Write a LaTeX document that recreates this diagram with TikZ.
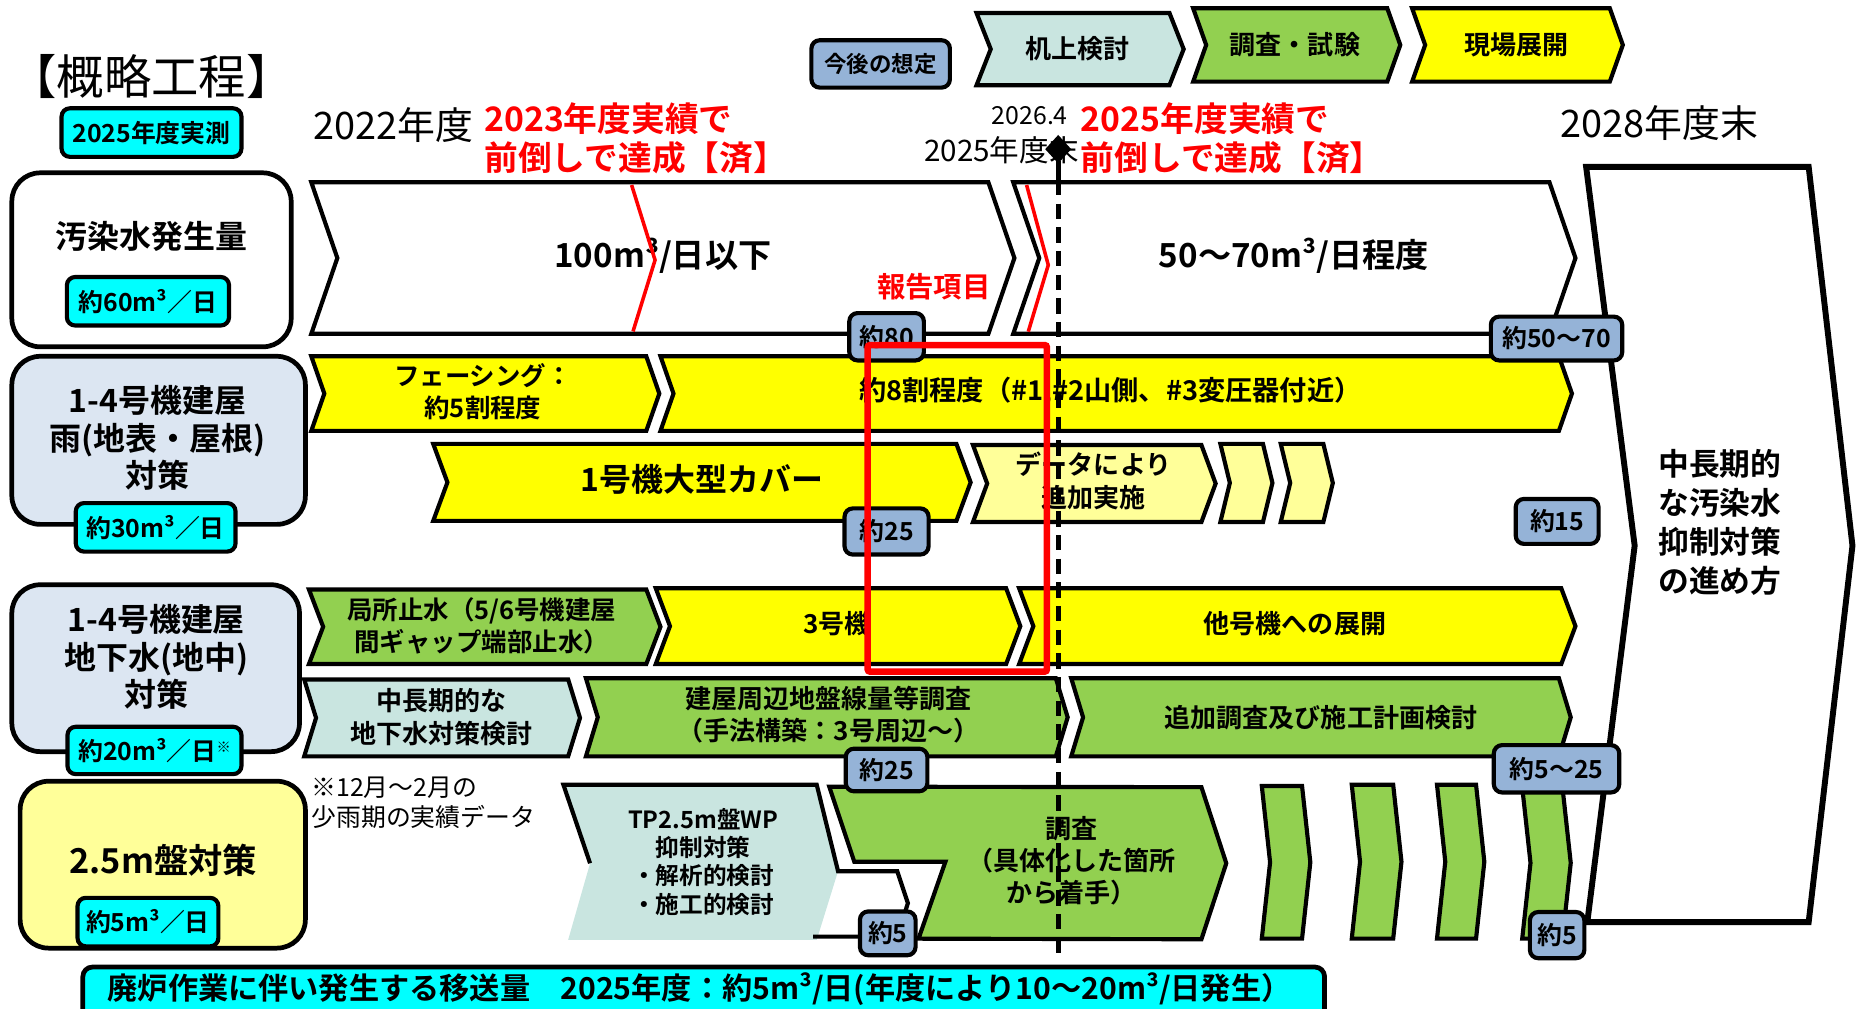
\documentclass[tikz,border=0pt]{standalone}
\usepackage{fontspec}
\setmainfont{Noto Sans CJK JP}[BoldFont={Noto Sans CJK JP Bold}]
\definecolor{cyanb}{HTML}{00FFFF}
\definecolor{bblue}{HTML}{95B3D7}
\definecolor{lgray}{HTML}{DCE6F2}
\definecolor{yel}{HTML}{FFFF00}
\definecolor{lyel}{HTML}{FFFF99}
\definecolor{grn}{HTML}{92D050}
\definecolor{lteal}{HTML}{C9E5E0}
\definecolor{redx}{HTML}{FF0000}
\newcommand\fsz[2]{\fontsize{#1}{#2}\selectfont}
\newcommand\chv[6]{\filldraw[ln,fill=#1] (#2,#3) -- (#4,#3) -- ({#4+#6},{(#3+#5)/2}) -- (#4,#5) -- (#2,#5) -- ({#2+#6},{(#3+#5)/2}) -- cycle;}
\tikzset{
  every node/.style={inner sep=0pt, align=center},
  ln/.style={draw=black, line width=3.5pt, line join=miter},
  lab/.style={draw=black, line width=4pt, rounded corners=24pt},
  bdg/.style={draw=black, line width=3.5pt, rounded corners=7pt, font=\bfseries\fsz{21}{21}},
  bb/.style={bdg, fill=bblue},
  bc/.style={bdg, fill=cyanb},
  tb/.style={font=\bfseries\fsz{#1}{#1}},
  tl/.style={font=\bfseries\fsz{27}{32}},
  rt/.style={text=redx, font=\bfseries\fsz{28.5}{33}, align=left, anchor=west},
}
\begin{document}
\begin{tikzpicture}[x=1pt,y=-1pt]
\useasboundingbox (0,0) rectangle (1568,852);
\clip (0,0) rectangle (1568,852);
% ---- header
\node[font=\fsz{40}{40}] (title) at (128,65) {【概略工程】};
\node[bc, minimum width=152pt, minimum height=41pt] (meas) at (128,112) {2025年度実測};
\node[bb, minimum width=117pt, minimum height=40pt, font=\bfseries\fsz{19}{19}] (legend0) at (744,54) {今後の想定};
\chv{lteal}{825}{11}{988}{72}{12}
\node[tb=22] (legend1) at (910,41) {机上検討};
\chv{grn}{1008}{7}{1172}{69}{11}
\node[tb=22] (legend2) at (1094,38) {調査・試験};
\chv{yel}{1193}{7}{1360}{69}{11}
\node[tb=22] (legend3) at (1281,38) {現場展開};
\node[font=\fsz{32}{32}] (y2022) at (332,106) {2022年度};
\node[font=\fsz{21}{21}] (y2026) at (870,98) {2026.4};
\node[font=\fsz{25}{25}] (y2025) at (846,127) {2025年度末};
\node[font=\fsz{32}{32}] (y2028) at (1402,104) {2028年度末};
\node[rt] (done1) at (409,117) {2023年度実績で\\前倒しで達成【済】};
\node[rt] (done2) at (913,117) {2025年度実績で\\前倒しで達成【済】};
% ---- row labels
\draw[lab, fill=white] (10,146) rectangle (246,293);
\node[tb=27] (lab1) at (128,200) {汚染水発生量};
\draw[lab, fill=lgray] (10,301) rectangle (258,443);
\node[tl] (lab2) at (133,370) {1-4号機建屋\\雨(地表・屋根)\\対策};
\draw[lab, fill=lgray] (10,494) rectangle (253,635);
\node[tl] (lab3) at (132,555) {1-4号機建屋\\地下水(地中)\\対策};
\draw[lab, fill=lyel] (17,660) rectangle (258,801);
\node[tb=29] (lab4) at (138,727) {2.5m盤対策};
% ---- row 1
\chv{white}{263}{154}{835}{282}{22}
\chv{white}{856}{154}{1309}{282}{22}
\node[tb=28] (r1a) at (560,216) {100m³/日以下};
\node[tb=28] (r1b) at (1093,216) {50～70m³/日程度};
\draw[redx, line width=3pt] (533.6,156.3) -- (553.4,219.7) -- (534.8,280);
\draw[redx, line width=3pt] (867.3,156.3) -- (885.6,223.9) -- (868.7,280.2);
\node[tb=24, text=redx] (report) at (789,242) {報告項目};
% ---- row 2
\chv{yel}{263}{301}{546}{364}{11}
\chv{yel}{558}{301}{1317}{364}{11}
\node[font=\bfseries\fsz{21.5}{27}] (r2a) at (408,331) {フェーシング：\\約5割程度};
\node[tb=23] (r2b) at (938,331) {約8割程度（\#1,\#2山側、\#3変圧器付近）};
\chv{yel}{366}{375}{808}{440}{12}
\node[tb=27] (r2c) at (593,405) {1号機大型カバー};
\chv{lyel}{822}{376}{1015}{441}{12}
\node[font=\bfseries\fsz{22}{28}] (r2d) at (924,406) {データにより\\追加実施};
\chv{lyel}{1031}{375}{1067}{441}{8}
\chv{lyel}{1082}{375}{1118}{441}{8}
% ---- row 3
\chv{grn}{261}{498}{546}{561}{12}
\node[font=\bfseries\fsz{21.5}{27}] (r3a) at (407,529) {局所止水（5/6号機建屋\\間ギャップ端部止水）};
\chv{yel}{554}{497}{850}{561}{12}
\node[tb=22] (r3b) at (707,527) {3号機};
\chv{yel}{861}{497}{1319}{561}{12}
\node[tb=22] (r3c) at (1094,527) {他号機への展開};
\chv{lteal}{257}{574}{480}{639}{10}
\node[font=\bfseries\fsz{22}{28}] (r3d) at (373,606) {中長期的な\\地下水対策検討};
\chv{grn}{495}{573}{892}{639}{10}
\node[font=\bfseries\fsz{22}{27}] (r3e) at (700,604) {建屋周辺地盤線量等調査\\（手法構築：3号周辺～）};
\chv{grn}{905}{573}{1317}{639}{10}
\node[tb=22] (r3f) at (1116,606) {追加調査及び施工計画検討};
\node[font=\fsz{21}{25}, align=left, anchor=west] (note) at (263,678) {※12月～2月の\\少雨期の実績データ};
% ---- row 4
\fill[lteal] (476,663) -- (690,663) -- (708,736) -- (690,794) -- (480,794) -- (498.5,729.3) -- cycle;
\draw[ln] (498.5,729.3) -- (476,663) -- (690,663) -- (708,736) -- (758,736) -- (767,763) -- (758,791.3) -- (687,791.3);
\filldraw[ln, fill=grn] (700.6,664.6) -- (1015,665) -- (1036,729.3) -- (1015,793.5) -- (776,793) -- (798.7,728) -- (721.7,728) -- cycle;
\node[font=\bfseries\fsz{20}{24}] (r4a) at (594,728) {TP2.5m盤WP\\抑制対策\\・解析的検討\\・施工的検討};
\node[font=\bfseries\fsz{22}{27}] (r4b) at (905,727) {調査\\（具体化した箇所\\から着手）};
\chv{grn}{1066}{664}{1100}{793}{7}
\chv{grn}{1142}{663}{1177}{793}{7}
\chv{grn}{1214}{663}{1247}{793}{7}
\chv{grn}{1286}{665}{1320}{793}{7}
% ---- right summary
\filldraw[draw=black, line width=5pt, fill=white, line join=miter] (1340,141) -- (1528,141) -- (1565,461) -- (1528,779) -- (1341,779) -- (1381,461) -- cycle;
\node[font=\bfseries\fsz{26}{33}] (future) at (1453,441) {中長期的\\な汚染水\\抑制対策\\の進め方};
% ---- bottom bar
\draw[fill=cyanb, line width=4pt, rounded corners=8pt] (70,817) rectangle (1119,890);
\node[tb=25.5] (bottom) at (591,836) {廃炉作業に伴い発生する移送量　2025年度：約5m³/日(年度により10～20m³/日発生）};
% ---- badges
\node[bc, minimum width=137pt, minimum height=41pt] (c60) at (125,254.5) {約60m³／日};
\node[bc, minimum width=135pt, minimum height=41pt] (c30) at (131.5,445.5) {約30m³／日};
\node[bc, minimum width=147pt, minimum height=40pt] (c20) at (130.5,634) {約20m³／日{\fsz{12}{12}\raisebox{7pt}{※}}};
\node[bc, minimum width=119pt, minimum height=41pt] (c5) at (125,779) {約5m³／日};
\node[bb, minimum width=63pt, minimum height=40pt] (b80) at (749,284.5) {約80};
\node[bb, minimum width=111pt, minimum height=37pt] (b5070) at (1315,286) {約50～70};
\node[bb, minimum width=71pt, minimum height=39pt] (b25a) at (749,449) {約25};
\node[bb, minimum width=70pt, minimum height=38pt] (b15) at (1315.5,440.5) {約15};
\node[bb, minimum width=69pt, minimum height=36pt] (b25b) at (749,650.5) {約25};
\node[bb, minimum width=106pt, minimum height=40pt] (b525) at (1315,649.5) {約5～25};
\node[bb, minimum width=47pt, minimum height=37pt] (b5a) at (750,788.5) {約5};
\node[bb, minimum width=46pt, minimum height=39pt] (b5b) at (1315.5,790) {約5};
% ---- timeline marker
\draw[line width=4pt] (894,136) -- (894,152);
\draw[line width=4pt, dash pattern=on 13pt off 7pt] (894,152) -- (894,809);
\fill (894,114) -- (905,126) -- (894,138) -- (883,126) -- cycle;
% ---- report frame
\draw[redx, line width=5.5pt, rounded corners=2pt] (733,291.5) rectangle (884.5,567.4);
\end{tikzpicture}
\end{document}
